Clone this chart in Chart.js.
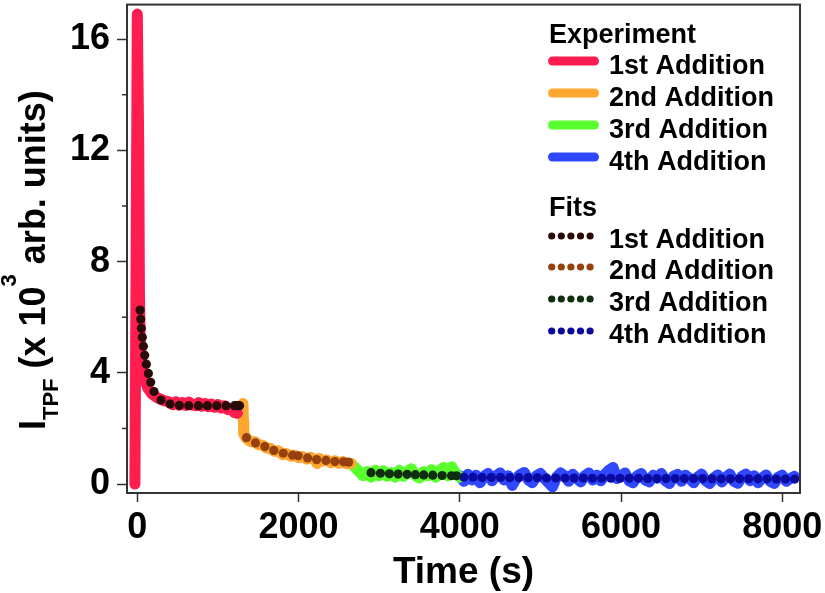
<!DOCTYPE html>
<html>
<head>
<meta charset="utf-8">
<script src="https://cdn.jsdelivr.net/npm/chart.js@4/dist/chart.umd.min.js"></script>
<style>
  html, body { margin: 0; padding: 0; background: #fff; }
</style>
</head>
<body>
<canvas id="tpfChart" width="825" height="593"></canvas>
<script>
// ---- data (time in s, intensity in 10^3 arb. units) ----
var seriesNames = ["1st Addition", "2nd Addition", "3rd Addition", "4th Addition"];

// experiment traces
var exp1 = [[-30, 0], [-15, 8], [0, 16.9], [8, 16.9], [18, 12], [26, 7], [35, 5.2], [50, 4.5],
  [70, 4.05], [95, 3.75], [130, 3.45], [180, 3.25], [250, 3.1], [330, 3.0], [400, 2.95],
  [440, 2.86], [480, 2.96], [520, 2.84], [560, 2.93], [600, 2.83], [640, 2.95], [680, 2.84],
  [720, 2.82], [760, 2.93], [800, 2.8], [840, 2.9], [880, 2.78], [920, 2.88], [960, 2.76],
  [1000, 2.86], [1040, 2.74], [1080, 2.82], [1120, 2.68], [1160, 2.72], [1200, 2.58], [1240, 2.55]];
var exp2 = [[1240, 2.55], [1265, 2.65], [1290, 2.8], [1310, 2.9], [1316, 2.3], [1320, 1.8],
  [1360, 1.62], [1410, 1.52], [1460, 1.52], [1500, 1.42], [1550, 1.4], [1600, 1.3],
  [1650, 1.28], [1700, 1.18], [1750, 1.2], [1800, 1.06], [1850, 1.1], [1900, 1.0],
  [1950, 1.04], [2000, 0.95], [2050, 0.99], [2100, 0.9], [2150, 0.96], [2200, 0.88],
  [2230, 0.74], [2260, 0.92], [2300, 0.83], [2350, 0.87], [2400, 0.77], [2450, 0.84],
  [2500, 0.75], [2550, 0.81], [2600, 0.73], [2650, 0.74]];
var exp3Start = 2650, exp3Step = 50;
var exp3 = [0.74, 0.6, 0.45, 0.3, 0.45, 0.25, 0.5, 0.3, 0.48, 0.28, 0.42, 0.25, 0.5, 0.28,
  0.45, 0.55, 0.3, 0.22, 0.45, 0.3, 0.52, 0.25, 0.5, 0.6, 0.3, 0.62, 0.38, 0.25];
var exp4Start = 4000, exp4Step = 50;
var exp4 = [0.3, 0.1, 0.35, 0.15, 0.32, 0.05, 0.28, 0.38, 0.12, 0.3,
  0.4, 0.15, 0.3, -0.05, 0.2, 0.35, 0.42, 0.15, 0.05, 0.3,
  0.38, 0.2, 0.05, -0.1, 0.25, 0.4, 0.3, 0.1, 0.35, 0.2,
  0.08, 0.3, 0.4, 0.15, 0.32, 0.12, 0.35, 0.5, 0.6, 0.2,
  0.3, 0.4, 0.12, 0.05, 0.3, 0.38, 0.15, 0.08, 0.32, 0.22,
  0.38, 0.12, 0.02, 0.28, 0.35, 0.1, 0.32, 0.2, 0.05, 0.25,
  0.36, 0.12, 0.02, 0.22, 0.33, 0.08, 0.25, 0.36, 0.1, 0.03,
  0.28, 0.36, 0.12, 0.3, 0.05, 0.22, 0.33, 0.1, 0.02, 0.25,
  0.32, 0.1, 0.2, 0.28];

// fitted curves (dotted)
var fit1 = [[34, 6.26], [42, 5.93], [50, 5.6], [62, 5.28], [75, 4.96], [92, 4.63], [112, 4.31],
  [137, 3.98], [166, 3.66], [207, 3.33], [294, 3.02], [406, 2.88], [522, 2.83], [638, 2.82],
  [758, 2.82], [870, 2.82], [986, 2.82], [1102, 2.82], [1206, 2.82], [1243, 2.82], [1268, 2.82]];
var fit2 = [[1354, 1.67], [1466, 1.48], [1582, 1.35], [1694, 1.21], [1810, 1.11], [1926, 1.04],
  [1996, 1.02], [2112, 0.94], [2224, 0.88], [2340, 0.85], [2451, 0.81], [2559, 0.8], [2621, 0.79]];
var fit3 = [[2899, 0.41], [3015, 0.39], [3127, 0.37], [3235, 0.36], [3347, 0.35], [3449, 0.34],
  [3553, 0.33], [3665, 0.32], [3781, 0.31], [3897, 0.3], [3960, 0.3]];
var fit4Start = 4050, fit4Step = 114;
var fit4 = [0.25, 0.25, 0.24, 0.24, 0.24, 0.23, 0.23, 0.23, 0.23, 0.22, 0.22, 0.22, 0.22,
  0.22, 0.21, 0.21, 0.21, 0.21, 0.21, 0.21, 0.2, 0.2, 0.2, 0.2, 0.2, 0.2, 0.2, 0.19, 0.19,
  0.19, 0.19, 0.19, 0.19, 0.19, 0.18, 0.18, 0.18];

var xTicks = [0, 2000, 4000, 6000, 8000];
var yTicks = [0, 4, 8, 12, 16];
var yMinorTicks = [2, 6, 10, 14];

var expColors = ["#ff1c4e", "#ffa62e", "#58ff2c", "#3048ff"];
var fitColors = ["#2b0a0a", "#96400e", "#0f2e0f", "#0a0a9e"];

var FONT = "'Liberation Sans', Arial, Helvetica, sans-serif";

function pairs(list) {
  return list.map(function (p) { return { x: p[0], y: p[1] }; });
}
function sampled(start, step, values) {
  return values.map(function (v, i) { return { x: start + i * step, y: v }; });
}

var expData = [pairs(exp1), pairs(exp2), sampled(exp3Start, exp3Step, exp3), sampled(exp4Start, exp4Step, exp4)];
var fitData = [pairs(fit1), pairs(fit2), pairs(fit3), sampled(fit4Start, fit4Step, fit4)];

var datasets = [];
fitData.forEach(function (d, i) {
  datasets.push({
    label: "Fit " + seriesNames[i],
    data: d,
    showLine: false,
    pointRadius: 4.6,
    pointBackgroundColor: fitColors[i],
    pointBorderWidth: 0,
    order: 0,
  });
});
expData.forEach(function (d, i) {
  datasets.push({
    label: "Experiment " + seriesNames[i],
    data: d,
    showLine: true,
    borderColor: expColors[i],
    borderWidth: 11,
    borderCapStyle: "round",
    borderJoinStyle: "round",
    pointRadius: 0,
    tension: 0,
    order: 1,
  });
});

// frame, minor ticks, axis titles and the two-part legend
var decorations = {
  id: "decorations",
  afterDraw: function (chart) {
    var ctx = chart.ctx, area = chart.chartArea, ys = chart.scales.y;
    ctx.save();
    ctx.strokeStyle = "#333";
    ctx.lineWidth = 2;
    ctx.strokeRect(area.left, area.top, area.right - area.left, area.bottom - area.top);
    ctx.lineWidth = 1.5;
    yMinorTicks.forEach(function (v) {
      var py = ys.getPixelForValue(v);
      ctx.beginPath();
      ctx.moveTo(area.left - 5, py);
      ctx.lineTo(area.left, py);
      ctx.stroke();
    });

    ctx.fillStyle = "#000";
    ctx.font = "bold 37px " + FONT;
    ctx.textAlign = "center";
    ctx.textBaseline = "alphabetic";
    ctx.fillText("Time (s)", (area.left + area.right) / 2, 583);

    // y title with subscript / superscript
    ctx.save();
    ctx.translate(45, 430);
    ctx.rotate(-Math.PI / 2);
    ctx.textAlign = "left";
    var parts = [["I", 36, 0], ["TPF", 22, 13], [" (x 10", 36, 0], ["3", 22, -29], [" arb. units)", 36, 0]];
    var px = 0;
    parts.forEach(function (p) {
      ctx.font = "bold " + p[1] + "px " + FONT;
      ctx.fillText(p[0], px, p[2]);
      px += ctx.measureText(p[0]).width;
    });
    ctx.restore();

    // legend
    ctx.textAlign = "left";
    ctx.font = "bold 27px " + FONT;
    ctx.fillText("Experiment", 549, 43);
    ctx.fillText("Fits", 549, 216);
    var lineY = [61, 93, 125, 157];
    var dotY = [236, 267, 299, 331];
    ctx.lineCap = "round";
    ctx.lineWidth = 9;
    seriesNames.forEach(function (name, i) {
      ctx.strokeStyle = expColors[i];
      ctx.beginPath();
      ctx.moveTo(552.5, lineY[i]);
      ctx.lineTo(594.5, lineY[i]);
      ctx.stroke();
      ctx.fillStyle = "#000";
      ctx.fillText(name, 609, lineY[i] + 13);

      ctx.fillStyle = fitColors[i];
      for (var k = 0; k < 5; k++) {
        ctx.beginPath();
        ctx.arc(551.7 + k * 9.6, dotY[i], 3.6, 0, Math.PI * 2);
        ctx.fill();
      }
      ctx.fillStyle = "#000";
      ctx.fillText(name, 609, dotY[i] + 12);
    });
    ctx.restore();
  },
};

var ctx = document.getElementById("tpfChart").getContext("2d");
var tpfChart = new Chart(ctx, {
  type: "scatter",
  data: { datasets: datasets },
  plugins: [decorations],
  options: {
    responsive: false,
    animation: false,
    layout: { padding: { top: 1, right: 25, left: 0, bottom: 0 } },
    plugins: { legend: { display: false }, tooltip: { enabled: false } },
    scales: {
      x: {
        type: "linear",
        min: -128,
        max: 8220,
        afterBuildTicks: function (scale) {
          scale.ticks = xTicks.map(function (v) { return { value: v }; });
        },
        afterFit: function (scale) {
          scale.height = 100;
          scale.paddingLeft = 0;
          scale.paddingRight = 0;
        },
        grid: { drawOnChartArea: false, tickLength: 9, tickColor: "#333", tickWidth: 1.5 },
        border: { display: false },
        ticks: {
          color: "#000", padding: 4, maxRotation: 0, autoSkip: false,
          font: { family: FONT, size: 36, weight: "bold" },
          callback: function (value) { return String(value); },
        },
      },
      y: {
        type: "linear",
        min: -0.32,
        max: 17.24,
        afterBuildTicks: function (scale) {
          scale.ticks = yTicks.map(function (v) { return { value: v }; });
        },
        afterFit: function (scale) {
          scale.width = 127;
          scale.paddingTop = 0;
          scale.paddingBottom = 0;
        },
        grid: { drawOnChartArea: false, tickLength: 10, tickColor: "#333", tickWidth: 1.5 },
        border: { display: false },
        ticks: { color: "#000", padding: 7, autoSkip: false, font: { family: FONT, size: 36, weight: "bold" } },
      },
    },
  },
});
</script>
</body>
</html>
